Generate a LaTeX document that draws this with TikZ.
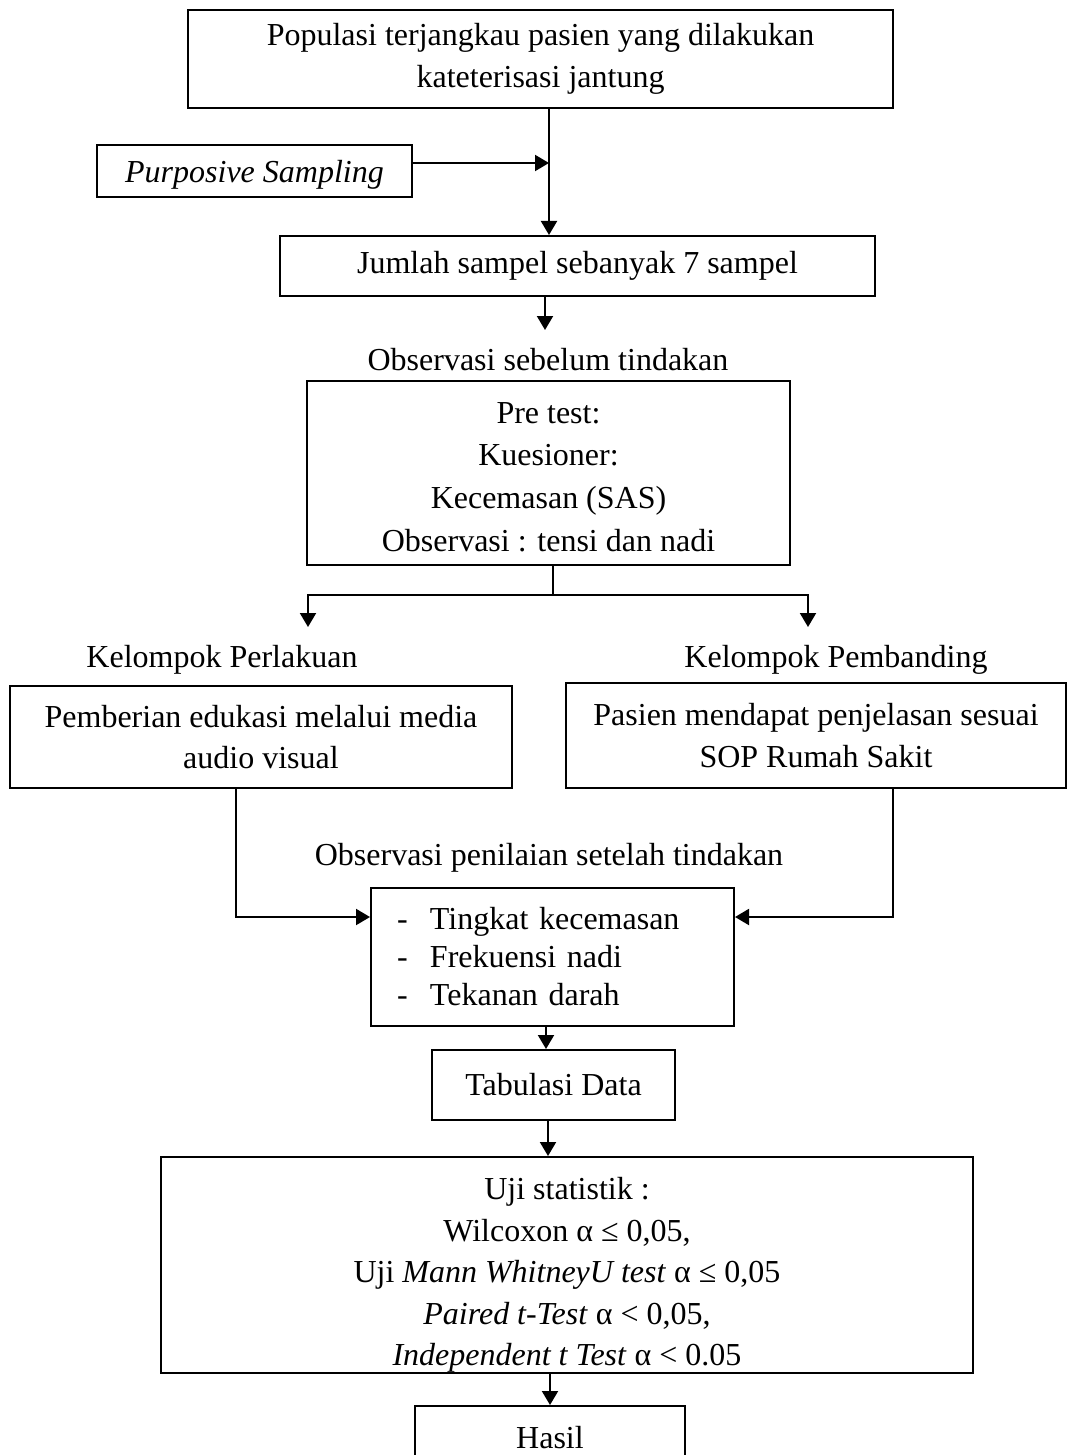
\documentclass[tikz,border=0pt]{standalone}
\usepackage{fontspec}
\setmainfont{Liberation Serif}
\usetikzlibrary{arrows.meta}
\begin{document}
\begin{tikzpicture}[x=0.5pt,y=-0.5pt,>={Triangle[length=7pt,width=8pt]},
                font=\fontsize{16}{20.8}\selectfont,
                caja/.style={draw,line width=1pt,align=center,inner sep=0pt},
                rotulo/.style={align=center,inner sep=0pt},
                flecha/.style={line width=1pt,->}]
                \useasboundingbox (0,0) rectangle (1067,1455);
                \node[caja,minimum width=352.5pt,minimum height=49pt] (pob) at (540.5,59) {Populasi terjangkau pasien yang dilakukan\\kateterisasi jantung}; % poblacion
                \node[caja,minimum width=157.5pt,minimum height=26pt,text depth=0pt] (muestreo) at (254.5,171) {\textit{Purposive Sampling}};
                \node[caja,minimum width=297.5pt,minimum height=30pt] (jumlah) at (577.5,266) {Jumlah sampel sebanyak 7 sampel};
                \node[rotulo] (obsA) at (548,360) {Observasi sebelum tindakan};
                \node[caja,minimum width=241.5pt,minimum height=92pt,font=\fontsize{16}{21.3}\selectfont] (pre) at (548.5,473)
                  {\rule{0pt}{14.5pt}Pre test:\\Kuesioner:\\Kecemasan (SAS)\\Observasi : tensi dan nadi};
                \node[rotulo] (kelA) at (222,660) {Kelompok Perlakuan};
                \node[rotulo] (kelB) at (836,660) {Kelompok Pembanding};
                \node[caja,minimum width=251pt,minimum height=51pt] (perl) at (261,737) {Pemberian edukasi melalui media\\audio visual};
                \node[caja,minimum width=250pt,minimum height=52.5pt] (pemb) at (816,735.5) {Pasien mendapat penjelasan sesuai\\SOP Rumah Sakit};
                \node[rotulo] (obsB) at (549,858) {Observasi penilaian setelah tindakan};
                \node[caja,align=left,text width=155.5pt,inner xsep=13pt,minimum height=69pt,font=\fontsize{16}{19}\selectfont] (ukur) at (552.5,957)
                  {\makebox[16.5pt][l]{-}Tingkat kecemasan\\\makebox[16.5pt][l]{-}Frekuensi nadi\\\makebox[16.5pt][l]{-}Tekanan darah};
                \node[caja,minimum width=121.5pt,minimum height=35pt] (tab) at (553.5,1085) {Tabulasi Data};
                \node[caja,minimum width=406pt,minimum height=108pt] (uji) at (567,1265)
                  {\rule{0pt}{21pt}Uji statistik :\\Wilcoxon α ≤ 0,05,\\Uji \textit{Mann WhitneyU test} α ≤ 0,05\\\textit{Paired t-Test} α < 0,05,\\\textit{Independent t Test} α < 0.05};
                \node[caja,minimum width=135pt,minimum height=32pt] (hasil) at (550,1438) {Hasil};
                % puntos de paso
                \coordinate (cruce) at (549,163);
                \coordinate (pA) at (545,330);
                \coordinate (rama) at (553,595);
                \coordinate (izq) at (308,627);
                \coordinate (der) at (808,627);
                \coordinate (bi) at (236,917);
                \coordinate (bd) at (893,917);
                % conectores
                \draw[flecha] (pob.south -| cruce) -- (jumlah.north -| cruce);
                \draw[flecha] (muestreo.east |- cruce) -- (cruce);
                \draw[flecha] (jumlah.south -| pA) -- (pA);
                \draw[line width=1pt] (pre.south -| rama) -- (rama);
                \draw[flecha] (rama) -| (izq);
                \draw[flecha] (rama) -| (der);
                \draw[flecha] (perl.south -| bi) -- (bi) -- (ukur.west |- bi);
                \draw[flecha] (pemb.south -| bd) -- (bd) -- (ukur.east |- bd);
                \draw[flecha] (ukur.south -| 546,0) -- (tab.north -| 546,0);
                \draw[flecha] (tab.south -| 548,0) -- (uji.north -| 548,0);
                \draw[flecha] (uji.south -| hasil) -- (hasil.north);
\end{tikzpicture}
\end{document}
